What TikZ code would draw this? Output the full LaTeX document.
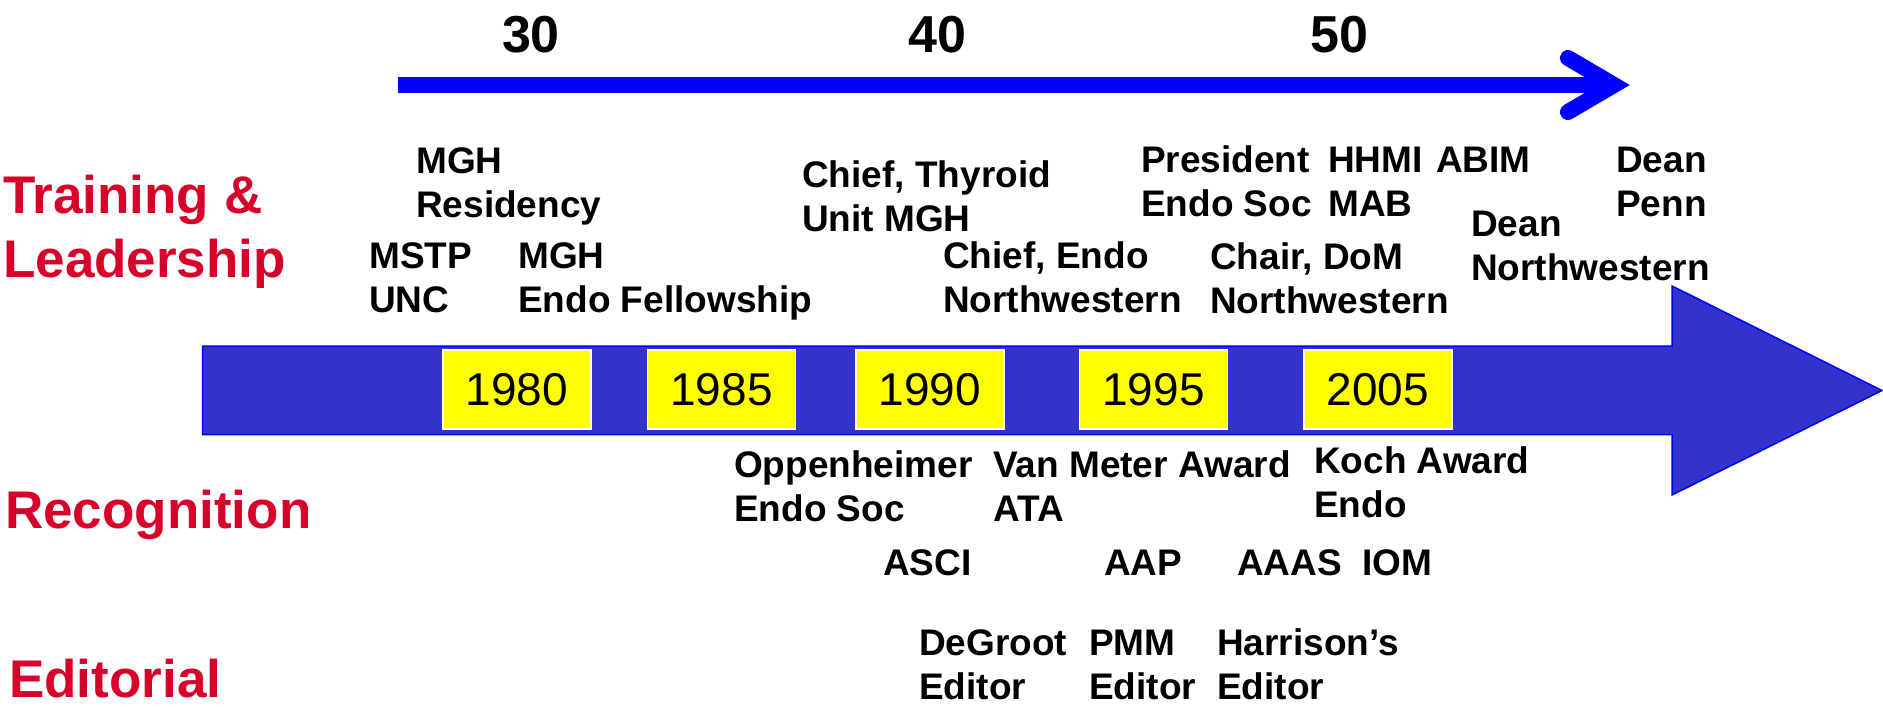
\documentclass[tikz,border=0pt]{standalone}
\usepackage{fontspec}
\setmainfont{Liberation Sans}
\definecolor{catred}{RGB}{214,0,42}
\definecolor{barfill}{RGB}{51,51,204}
\definecolor{barline}{RGB}{0,0,255}
\definecolor{boxyellow}{RGB}{255,255,0}
\newcommand\twoline[5]{%
  \node[lbl] (#1-1) at (#2,#3) {#4};
  \node[lbl] (#1-2) at (#2,#3+44) {#5};}
\begin{document}
\begin{tikzpicture}[x=1pt,y=-1pt,
  lbl/.style={anchor=base west, inner sep=0pt, font=\fontsize{37}{44}\selectfont\bfseries},
  cat/.style={anchor=base west, inner sep=0pt, text=catred, font=\fontsize{53}{64}\selectfont\bfseries},
  age/.style={anchor=base, inner sep=0pt, font=\fontsize{52}{60}\selectfont\bfseries},
  yearbox/.style={draw=white, line width=1.5pt, fill=boxyellow, minimum width=148pt, minimum height=79pt, inner sep=0pt, font=\fontsize{46}{50}\selectfont},
  agearrow/.style={draw=barline, line width=16pt}
]
\useasboundingbox (0,0) rectangle (1883,707);

% age axis
\node[age] (a30) at (531,52) {30};
\node[age] (a40) at (937,52) {40};
\node[age] (a50) at (1339,52) {50};
\coordinate (agestart) at (398,85);
\coordinate (ageend) at (1600,85);
\draw[agearrow, line cap=butt] (agestart) -- (ageend);
\draw[agearrow, line cap=round, line join=miter] (1568,58) -- (1614,85) -- (1568,112);

% timeline big arrow
\draw[fill=barfill, draw=barline, line width=1.5pt, line join=miter]
  (202.7,346) -- (1672,346) -- (1672,286) -- (1882,390.5) -- (1672,495)
  -- (1672,434.5) -- (202.7,434.5) -- cycle;

% year boxes
\node[yearbox] (y1980) at (517,389.5) {1980};
\node[yearbox] (y1985) at (721.5,389.5) {1985};
\node[yearbox] (y1990) at (930,389.5) {1990};
\node[yearbox] (y1995) at (1153.5,389.5) {1995};
\node[yearbox] (y2005) at (1378,389.5) {2005};

% categories
\node[cat] (tl1) at (3,213) {Training \&};
\node[cat] (tl2) at (3,277) {Leadership};
\node[cat] (rec) at (5,528) {Recognition};
\node[cat] (edi) at (9,697) {Editorial};

% training & leadership
\twoline{mghres}{416}{173}{MGH}{Residency}
\twoline{mstp}{369}{268}{MSTP}{UNC}
\twoline{mghendo}{518}{268}{MGH}{Endo Fellowship}
\twoline{thyroid}{802}{187}{Chief, Thyroid}{Unit MGH}
\twoline{chiefendo}{943}{268}{Chief, Endo}{Northwestern}
\twoline{pres}{1141}{172}{President}{Endo Soc}
\twoline{hhmi}{1328}{172}{HHMI}{MAB}
\node[lbl] (abim) at (1436,172) {ABIM};
\twoline{deanpenn}{1616}{172}{Dean}{Penn}
\twoline{deannw}{1471}{236}{Dean}{Northwestern}
\twoline{chair}{1210}{269}{Chair, DoM}{Northwestern}

% recognition
\twoline{opp}{734}{477}{Oppenheimer}{Endo Soc}
\twoline{vanmeter}{993}{477}{Van Meter Award}{ATA}
\twoline{koch}{1314}{473}{Koch Award}{Endo}
\node[lbl] (asci) at (883,575) {ASCI};
\node[lbl] (aap) at (1104,575) {AAP};
\node[lbl] (aaas) at (1237,575) {AAAS};
\node[lbl] (iom) at (1362,575) {IOM};

% editorial
\twoline{degroot}{919}{655}{DeGroot}{Editor}
\twoline{pmm}{1089}{655}{PMM}{Editor}
\twoline{harrison}{1217}{655}{Harrison’s}{Editor}
\end{tikzpicture}
\end{document}
